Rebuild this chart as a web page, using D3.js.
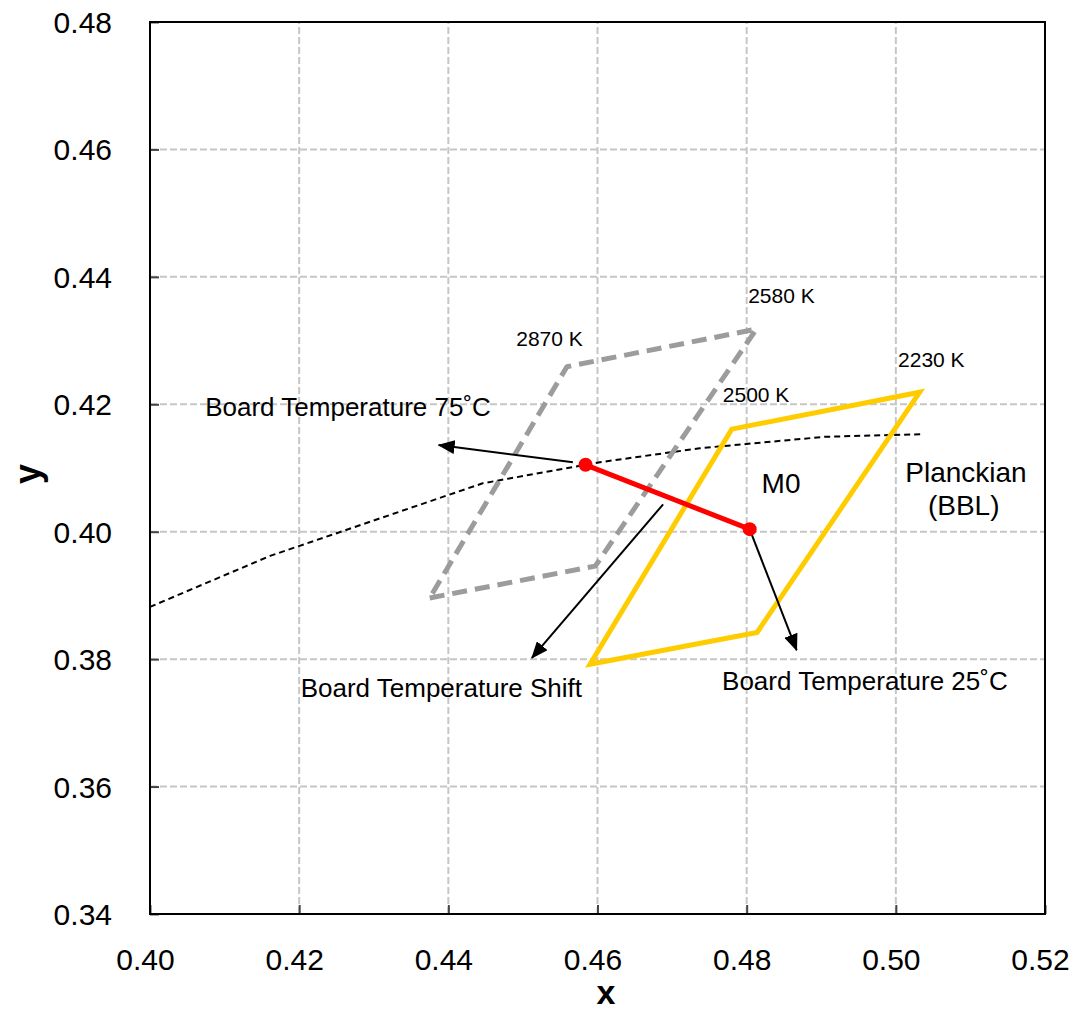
<!doctype html>
<html>
  <head>
    <meta charset="utf-8">
    <title>Board temperature shift</title>
    <script src="https://cdnjs.cloudflare.com/ajax/libs/d3/7.8.5/d3.min.js"></script>
    <style>
      body { margin: 0; background: #fff; }
      text { font-family: "Liberation Sans", Arial, sans-serif; fill: #000; }
    </style>
  </head>
  <body>
    <div id="chart"></div>
    <script>
      // ticks
      const xTicks = [0.40, 0.42, 0.44, 0.46, 0.48, 0.50, 0.52];
      const yTicks = [0.34, 0.36, 0.38, 0.40, 0.42, 0.44, 0.46, 0.48];

      // bin at 75C (grey dashed) and 25C (yellow)
      const bin75 = [[0.4375, 0.3896], [0.4597, 0.3946], [0.4813, 0.4318], [0.4559, 0.4259]];
      const bin25 = [[0.4590, 0.3792], [0.4814, 0.3842], [0.5032, 0.4219], [0.4780, 0.4161]];

      // planckian locus
      const bbl = [[0.4000, 0.3882], [0.4161, 0.3962], [0.4446, 0.4076], [0.4603, 0.4109],
                   [0.4737, 0.4131], [0.4905, 0.4149], [0.5035, 0.4153]];

      // M0 at 75C and 25C
      const shift = [[0.4584, 0.4105], [0.4804, 0.4004]];

      // arrows [from, to]
      const arrows = [
        [[0.4567, 0.4109], [0.4387, 0.4136]],
        [[0.4688, 0.4043], [0.4512, 0.3802]],
        [[0.4804, 0.4004], [0.4867, 0.3814]]
      ];

      // text labels, anchored in data units
      const labels = [
        {t: "2870 K", x: 0.4491, y: 0.4291, size: 21},
        {t: "2580 K", x: 0.4802, y: 0.4359, size: 21},
        {t: "2500 K", x: 0.4768, y: 0.4203, size: 21},
        {t: "2230 K", x: 0.5003, y: 0.4258, size: 21},
        {t: "Board Temperature 75\u02DAC", x: 0.4074, y: 0.4181, size: 26},
        {t: "Board Temperature Shift", x: 0.4202, y: 0.3740, size: 26},
        {t: "Board Temperature 25\u02DAC", x: 0.4767, y: 0.3751, size: 26},
        {t: "M0", x: 0.4820, y: 0.4061, size: 28},
        {t: "Planckian", x: 0.5094, y: 0.4078, size: 28, mid: true},
        {t: "(BBL)", x: 0.5091, y: 0.4026, size: 28, mid: true}
      ];

      const W = 1076, H = 1014;
      const x = d3.scaleLinear().domain([0.40, 0.52]).range([150, 1045]);
      const y = d3.scaleLinear().domain([0.34, 0.48]).range([914, 22]);

      const svg = d3.select("#chart").append("svg")
        .attr("width", W).attr("height", H);

      svg.append("defs").append("marker")
        .attr("id", "head")
        .attr("markerUnits", "userSpaceOnUse")
        .attr("viewBox", "0 0 17 14")
        .attr("refX", 16).attr("refY", 7)
        .attr("markerWidth", 17).attr("markerHeight", 14)
        .attr("orient", "auto")
        .append("path").attr("d", "M0,0 L17,7 L0,14 Z").attr("fill", "#000");

      // grid
      svg.append("g").selectAll("line").data(xTicks.slice(1, -1)).join("line")
        .attr("x1", d => x(d)).attr("x2", d => x(d))
        .attr("y1", y(0.34)).attr("y2", y(0.48))
        .attr("stroke", "#c6c6c6").attr("stroke-width", 2).attr("stroke-dasharray", "7 3");
      svg.append("g").selectAll("line").data(yTicks.slice(1, -1)).join("line")
        .attr("y1", d => y(d)).attr("y2", d => y(d))
        .attr("x1", x(0.40)).attr("x2", x(0.52))
        .attr("stroke", "#c6c6c6").attr("stroke-width", 2).attr("stroke-dasharray", "7 3");

      // axes with inward ticks
      const xAxis = svg.append("g").attr("transform", `translate(0,${y(0.34)})`)
        .call(d3.axisBottom(x).tickValues(xTicks).tickSizeInner(-9).tickSizeOuter(0).tickFormat(d3.format(".2f")));
      const yAxis = svg.append("g").attr("transform", `translate(${x(0.40)},0)`)
        .call(d3.axisLeft(y).tickValues(yTicks).tickSizeInner(-9).tickSizeOuter(0).tickFormat(d3.format(".2f")));
      [xAxis, yAxis].forEach(g => {
        g.select(".domain").remove();
        g.selectAll(".tick line").attr("stroke", "#444").attr("stroke-width", 2);
        g.selectAll(".tick text").attr("font-size", 30).attr("font-family", "Liberation Sans, Arial, sans-serif").attr("fill", "#000");
      });
      xAxis.selectAll(".tick text").attr("dy", null).attr("y", 56).attr("x", -5);
      yAxis.selectAll(".tick text").attr("x", -38).attr("dy", "0.35em");

      // frame
      svg.append("rect")
        .attr("x", x(0.40)).attr("y", y(0.48))
        .attr("width", x(0.52) - x(0.40)).attr("height", y(0.34) - y(0.48))
        .attr("fill", "none").attr("stroke", "#000").attr("stroke-width", 2);

      const line = d3.line().x(d => x(d[0])).y(d => y(d[1]));

      // planckian
      svg.append("path").attr("d", line(bbl))
        .attr("fill", "none").attr("stroke", "#000").attr("stroke-width", 2).attr("stroke-dasharray", "6 4");

      // bins
      svg.append("path").attr("d", line(bin75) + "Z")
        .attr("fill", "none").attr("stroke", "#9c9c9c").attr("stroke-width", 5)
        .attr("stroke-dasharray", "15 8").attr("stroke-linejoin", "round");
      svg.append("path").attr("d", line(bin25) + "Z")
        .attr("fill", "none").attr("stroke", "#ffcc00").attr("stroke-width", 5);

      // arrows
      svg.append("g").selectAll("line").data(arrows).join("line")
        .attr("x1", d => x(d[0][0])).attr("y1", d => y(d[0][1]))
        .attr("x2", d => x(d[1][0])).attr("y2", d => y(d[1][1]))
        .attr("stroke", "#000").attr("stroke-width", 2)
        .attr("marker-end", "url(#head)");

      // shift line
      svg.append("path").attr("d", line(shift))
        .attr("fill", "none").attr("stroke", "#ff0000").attr("stroke-width", 5);
      svg.append("g").selectAll("circle").data(shift).join("circle")
        .attr("cx", d => x(d[0])).attr("cy", d => y(d[1])).attr("r", 7)
        .attr("fill", "#ff0000");

      // labels
      svg.append("g").selectAll("text").data(labels).join("text")
        .attr("x", d => x(d.x)).attr("y", d => y(d.y))
        .attr("font-size", d => d.size)
        .attr("text-anchor", d => d.mid ? "middle" : "start")
        .text(d => d.t);

      // axis titles
      svg.append("text").attr("x", 606).attr("y", 1004)
        .attr("text-anchor", "middle").attr("font-size", 34).attr("font-weight", "bold").text("x");
      svg.append("text").attr("transform", "translate(40,474) rotate(-90)")
        .attr("text-anchor", "middle").attr("font-size", 36).attr("font-weight", "bold").text("y");
    </script>
  </body>
</html>
